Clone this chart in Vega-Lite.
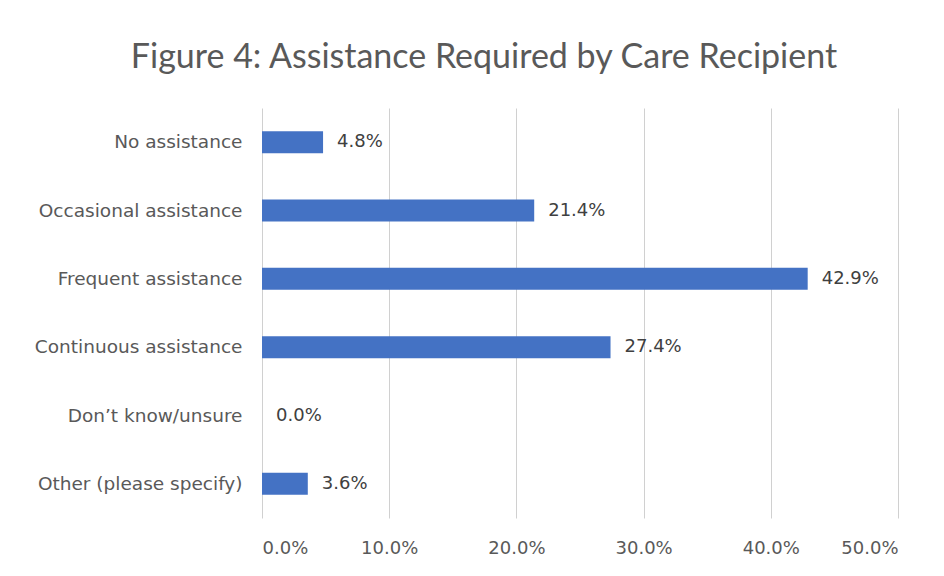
{
  "$schema": "https://vega.github.io/schema/vega-lite/v6.json",
  "width": 636,
  "height": 410,
  "autosize": {"type": "none"},
  "padding": {"left": 262, "top": 108, "right": 46, "bottom": 58},
  "background": "white",
  "title": {
    "text": "Figure 4: Assistance Required by Care Recipient",
    "font": "Lato",
    "fontSize": 34,
    "fontWeight": "normal",
    "color": "#595959",
    "anchor": "middle",
    "dx": -96,
    "offset": 33
  },
  "data": {
    "values": [
      {"category": "No assistance", "value": 0.048},
      {"category": "Occasional assistance", "value": 0.214},
      {"category": "Frequent assistance", "value": 0.429},
      {"category": "Continuous assistance", "value": 0.274},
      {"category": "Don’t know/unsure", "value": 0.0},
      {"category": "Other (please specify)", "value": 0.036}
    ]
  },
  "encoding": {
    "y": {
      "field": "category",
      "type": "nominal",
      "sort": null,
      "title": null,
      "scale": {"paddingInner": 0.678, "paddingOuter": 0.339},
      "axis": {
        "domain": false,
        "ticks": false,
        "labelFont": "DejaVu Sans",
        "labelFontSize": 18.5,
        "labelColor": "#595959",
        "labelPadding": 20,
        "labelLimit": 300
      }
    },
    "x": {
      "field": "value",
      "type": "quantitative",
      "title": null,
      "scale": {"domain": [0, 0.5], "nice": false},
      "axis": {
        "values": [0, 0.1, 0.2, 0.3, 0.4, 0.5],
        "format": ".1%",
        "domain": false,
        "ticks": false,
        "grid": true,
        "gridColor": "#d0d0d0",
        "gridWidth": 1,
        "labelFont": "DejaVu Sans",
        "labelFontSize": 18,
        "labelColor": "#595959",
        "labelPadding": 21
      }
    }
  },
  "layer": [
    {
      "mark": {"type": "bar", "color": "#4472C4"}
    },
    {
      "mark": {
        "type": "text",
        "align": "left",
        "baseline": "middle",
        "dx": 14,
        "font": "DejaVu Sans",
        "fontSize": 18,
        "color": "#404040"
      },
      "encoding": {
        "text": {"field": "value", "type": "quantitative", "format": ".1%"}
      }
    }
  ],
  "config": {"view": {"stroke": null}}
}
